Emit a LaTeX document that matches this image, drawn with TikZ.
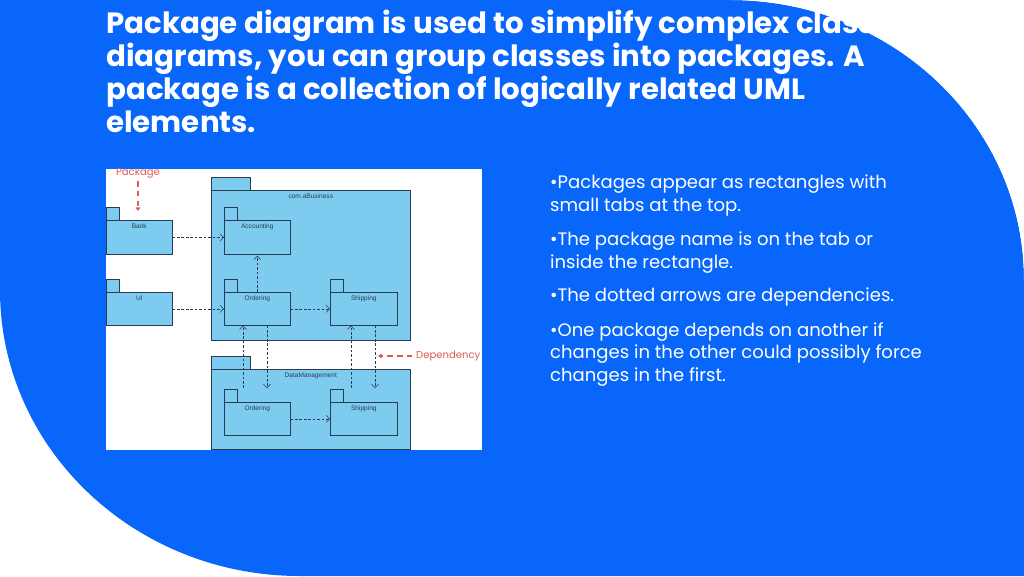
\documentclass[tikz,border=0pt]{standalone}
\usepackage{fontspec}
\setmainfont{Poppins}
\newfontfamily\diag{Liberation Sans}
\usetikzlibrary{arrows.meta}
\definecolor{bgblue}{RGB}{8,102,250}
\definecolor{pkfill}{RGB}{126,203,240}
\definecolor{pkline}{RGB}{40,60,85}
\definecolor{annot}{RGB}{222,92,88}
\tikzset{
  pkgst/.style={draw=pkline, fill=pkfill, line width=0.5pt},
  dep/.style={draw=pkline, line width=0.45pt, dash pattern=on 2.2pt off 1.6pt, -{Straight Barb[length=3pt,width=6pt]}},
  redarr/.style={draw=annot, line width=1pt, dash pattern=on 5pt off 3.5pt, -{Triangle[length=3pt,width=4pt]}},
  lbl/.style={font=\diag\fontsize{5.6pt}{6.5pt}\selectfont, text=pkline, inner sep=0},
  bullet/.style={text=white, anchor=north west, align=left, inner sep=0, font=\fontsize{15.4pt}{19.6pt}\selectfont},
}
\newcommand\pkgbox[7]{%
  \draw[pkgst] (#2,#3-13) rectangle (#2+#7,#3);
  \node[pkgst, anchor=north west, minimum width=#4*0.03cm, minimum height=#5*0.03cm, inner sep=0] (#1) at (#2,#3) {};
  \node[lbl, anchor=north] (#1lbl) at ([yshift=-3pt]#1.north) {#6};}
\begin{document}
\begin{tikzpicture}[x=0.03cm,y=-0.03cm]
\useasboundingbox (0,0) rectangle (1024,576);
\fill[white] (0,0) rectangle (1024,576);
\fill[bgblue] (0,0) -- (730,0) .. controls (892,0) and (1024,125) .. (1024,280) -- (1024,576) -- (300,576) .. controls (134,576) and (0,448) .. (0,290) -- cycle;
% title
\node[text=white, anchor=north west, align=left, inner sep=0, font=\bfseries\fontsize{25pt}{28.2pt}\selectfont] (title) at (106,10)
 {Package diagram is used to simplify complex class\\diagrams, you can group classes into packages. A\\package is a collection of logically related UML\\elements.};
% white redraw of the area outside the shape, clipping the title
\fill[white] (730,0) .. controls (892,0) and (1024,125) .. (1024,280) -- (1024,0) -- cycle;
% diagram image
\fill[white] (106,169) rectangle (482,450);
\pkgbox{biz}{211}{190}{199}{150}{com.aBusiness}{39}
\pkgbox{dm}{211}{369}{199}{80}{DataManagement}{39}
\pkgbox{bank}{106}{220}{66}{34}{Bank}{13}
\pkgbox{ui}{106}{292}{66}{33}{UI}{13}
\pkgbox{acc}{224}{220}{66}{34}{Accounting}{13}
\pkgbox{ord}{224}{292}{66}{33}{Ordering}{13}
\pkgbox{ship}{330}{292}{67}{33}{Shipping}{13}
\pkgbox{ordb}{224}{402}{66}{33}{Ordering}{13}
\pkgbox{shipb}{330}{402}{67}{33}{Shipping}{13}
\draw[dep] (bank.east) -- (acc.west);
\draw[dep] (ui.east) -- (ord.west);
\draw[dep] (ord.east) -- (ship.west);
\draw[dep] (ordb.east) -- (shipb.west);
\draw[dep] (ord.north) -- ([yshift=-1pt]acc.south);
\coordinate (a1) at (243,388); \coordinate (a2) at (267,388);
\coordinate (a3) at (351,388); \coordinate (a4) at (375,388);
\draw[dep] (a1) -- (a1 |- ord.south);
\draw[dep] (a2 |- ord.south) -- (a2);
\draw[dep] (a3) -- (a3 |- ship.south);
\draw[dep] (a4 |- ship.south) -- (a4);
% annotations
\node[text=annot, font=\fontsize{8.6pt}{9pt}\selectfont, inner sep=0] (pk) at (138,173) {Package};
\coordinate (pktip) at (138,211);
\draw[redarr] ([yshift=-2pt]pk.south) -- (pktip);
\node[text=annot, font=\fontsize{8.6pt}{9pt}\selectfont, inner sep=0, anchor=west] (dp) at (416,356) {Dependency};
\coordinate (dptip) at (378,356);
\draw[redarr] ([xshift=-3pt]dp.west) -- (dptip);
% bullets
\node[bullet] (b1) at (550,175) {•Packages appear as rectangles with\\small tabs at the top.};
\node[bullet] (b2) at (550,232) {•The package name is on the tab or\\inside the rectangle.};
\node[bullet] (b3) at (550,288) {•The dotted arrows are dependencies.};
\node[bullet] (b4) at (550,322) {•One package depends on another if\\changes in the other could possibly force\\changes in the first.};
\end{tikzpicture}
\end{document}
